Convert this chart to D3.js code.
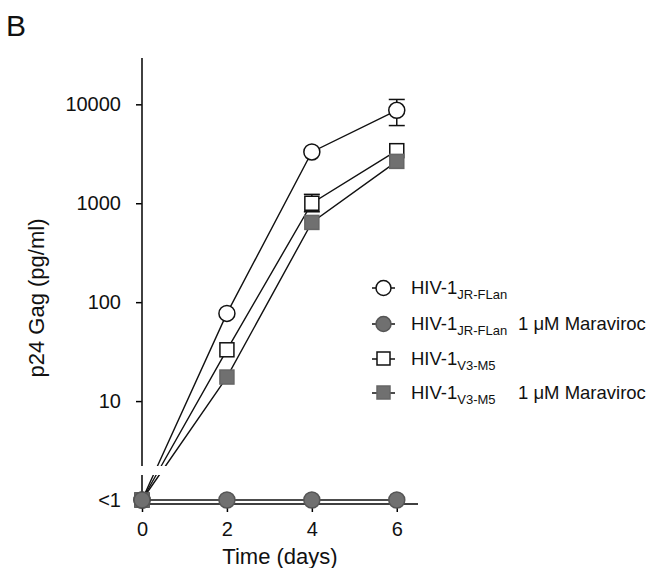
<!DOCTYPE html>
<html>
<head>
<meta charset="utf-8">
<script src="https://cdn.jsdelivr.net/npm/d3@7"></script>
<style>
  body { margin: 0; background: #fff; }
  text { font-family: "Liberation Sans", Arial, sans-serif; fill: #111; }
</style>
</head>
<body>
<div class="chart"></div>
<script>
// values (pg/ml, "<1" plotted at 1)
const days = [0, 2, 4, 6];
const jrflan = [1, 77, 3300, 8700];
const jrflanMvc = [1, 1, 1, 1];
const v3m5 = [1, 33, 1000, 3400];
const v3m5Mvc = [1, 17.5, 640, 2650];
// error bars [day, low, high]
const jrflanErr = [[6, 6100, 11200]];
const v3m5Err = [[4, 820, 1230]];
const yTicks = [1, 10, 100, 1000, 10000];
const xTicks = [0, 2, 4, 6];

const legendItems = [
  {sub: "JR-FLan", extra: "", shape: "circle", fill: "#fff"},
  {sub: "JR-FLan", extra: "1 \u03bcM Maraviroc", shape: "circle", fill: "#707070"},
  {sub: "V3-M5", extra: "", shape: "square", fill: "#fff"},
  {sub: "V3-M5", extra: "1 \u03bcM Maraviroc", shape: "square", fill: "#707070"}
];

let outerWidth = 649, outerHeight = 568;
let svg = d3.select('.chart').append('svg')
    .attr('width', outerWidth)
    .attr('height', outerHeight);

const xScale = d3.scaleLinear().domain([0, 6.5]).range([142, 418]);
const yScale = d3.scaleLog().domain([1, 29400]).range([500, 58]);
const axisY = 504; // x axis sits just below the "<1" level

// panel letter
svg.append("text").attr("x", 6).attr("y", 36)
    .attr("font-size", 30).text("B");

// y axis (drawn with a break near the bottom)
let yAxis = d3.axisLeft(yScale)
    .tickValues(yTicks)
    .tickSize(6)
    .tickPadding(15)
    .tickFormat(d => d === 1 ? "<1" : d3.format("d")(d));
let gy = svg.append("g")
    .attr("transform", `translate(${xScale(0)},0)`)
    .call(yAxis);
gy.select(".domain").remove();
gy.selectAll("text").attr("font-size", 20).attr("font-family", "Liberation Sans, Arial, sans-serif");
gy.selectAll("line").attr("stroke-width", 1.5);

// x axis
let xAxis = d3.axisBottom(xScale)
    .tickValues(xTicks)
    .tickSize(8)
    .tickPadding(10)
    .tickFormat(d3.format("d"));
let gx = svg.append("g")
    .attr("transform", `translate(0,${axisY})`)
    .call(xAxis);
gx.select(".domain").attr("d", `M${xScale(0)},0H${xScale(6.5)}`).attr("stroke-width", 1.5);
gx.selectAll("text").attr("font-size", 20).attr("font-family", "Liberation Sans, Arial, sans-serif");
gx.selectAll("line").attr("stroke-width", 1.5);

// series
const series = [
  {vals: jrflan, shape: "circle", fill: "#fff", err: jrflanErr},
  {vals: v3m5, shape: "square", fill: "#fff", err: v3m5Err},
  {vals: v3m5Mvc, shape: "square", fill: "#707070", err: []},
  {vals: jrflanMvc, shape: "circle", fill: "#707070", err: []}
];

let line = d3.line().x((d, i) => xScale(days[i])).y(d => yScale(d));

series.forEach(s => {
  svg.append("path")
      .attr("d", line(s.vals))
      .attr("fill", "none")
      .attr("stroke", "#111")
      .attr("stroke-width", 1.4);
});

// break in the y axis and lines
svg.append("line")
    .attr("x1", xScale(0)).attr("x2", xScale(0))
    .attr("y1", 58).attr("y2", axisY)
    .attr("stroke", "#111").attr("stroke-width", 1.6);
svg.append("rect")
    .attr("x", 125).attr("y", 466).attr("width", 50).attr("height", 9)
    .attr("fill", "#fff");

series.forEach(s => {
  // error bars
  s.err.forEach(e => {
    let x = xScale(e[0]);
    let g = svg.append("g").attr("stroke", "#111").attr("stroke-width", 1.5);
    g.append("line").attr("x1", x).attr("x2", x)
        .attr("y1", yScale(e[1])).attr("y2", yScale(e[2]));
    [e[1], e[2]].forEach(v => {
      g.append("line").attr("x1", x - 8).attr("x2", x + 8)
          .attr("y1", yScale(v)).attr("y2", yScale(v));
    });
  });
  // markers
  s.vals.forEach((v, i) => {
    let x = xScale(days[i]), y = yScale(v);
    if (s.shape === "circle") {
      svg.append("circle").attr("cx", x).attr("cy", y).attr("r", 8)
          .attr("fill", s.fill).attr("stroke", s.fill === "#fff" ? "#111" : "#555")
          .attr("stroke-width", 1.5);
    } else {
      svg.append("rect").attr("x", x - 7).attr("y", y - 7)
          .attr("width", 14).attr("height", 14)
          .attr("fill", s.fill).attr("stroke", s.fill === "#fff" ? "#111" : "#666")
          .attr("stroke-width", 1.5);
    }
  });
});

// axis titles
svg.append("text")
    .attr("x", (xScale(0) + xScale(6.5)) / 2).attr("y", 564)
    .attr("text-anchor", "middle").attr("font-size", 22)
    .text("Time (days)");
svg.append("text")
    .attr("transform", "translate(44,298) rotate(-90)")
    .attr("text-anchor", "middle").attr("font-size", 22)
    .text("p24 Gag (pg/ml)");

// legend
let legend = svg.append("g").attr("class", "legend");
let rowY = [288, 324, 359, 393];
legendItems.forEach((d, i) => {
  let y = rowY[i];
  legend.append("line").attr("x1", 372).attr("x2", 395)
      .attr("y1", y).attr("y2", y).attr("stroke", "#111").attr("stroke-width", 1.5);
  if (d.shape === "circle") {
    legend.append("circle").attr("cx", 383.5).attr("cy", y).attr("r", 7.5)
        .attr("fill", d.fill).attr("stroke", d.fill === "#fff" ? "#111" : "#555")
        .attr("stroke-width", 1.5);
  } else {
    legend.append("rect").attr("x", 377).attr("y", y - 7)
        .attr("width", 13).attr("height", 13)
        .attr("fill", d.fill).attr("stroke", d.fill === "#fff" ? "#111" : "#666")
        .attr("stroke-width", 1.5);
  }
  let t = legend.append("text").attr("x", 411).attr("y", y + 6).attr("font-size", 18.5);
  t.append("tspan").text("HIV-1");
  t.append("tspan").attr("dy", 5).attr("font-size", 13).text(d.sub);
  if (d.extra) {
    legend.append("text").attr("x", 518).attr("y", y + 6)
        .attr("font-size", 18.5).text(d.extra);
  }
});
</script>
</body>
</html>
